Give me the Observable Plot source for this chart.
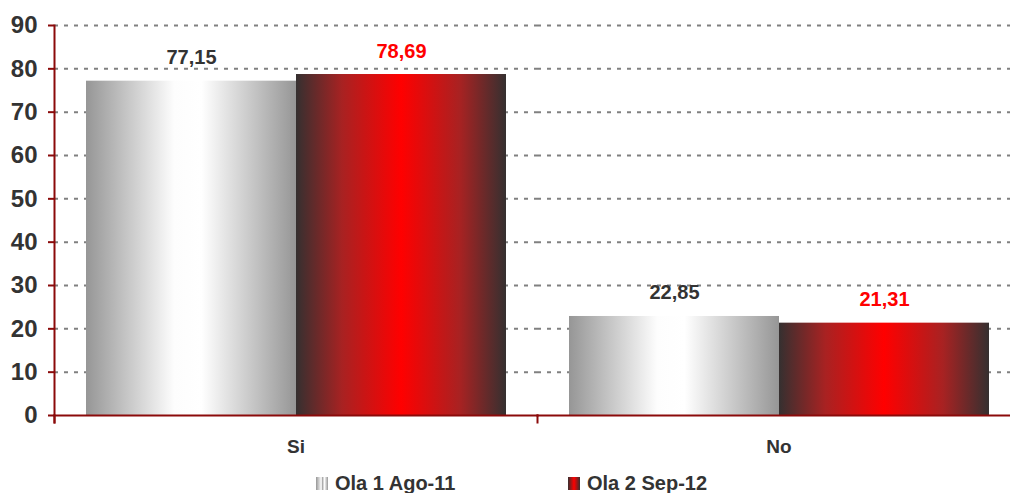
<!DOCTYPE html>
<html>
<head>
<meta charset="utf-8">
<script src="https://cdn.jsdelivr.net/npm/d3@7"></script>
<script src="https://cdn.jsdelivr.net/npm/@observablehq/plot@0.6"></script>
<style>
  html, body { margin: 0; padding: 0; background: #fff; }
  body { width: 1010px; height: 493px; overflow: hidden; position: relative; font-family: "Liberation Sans", Arial, sans-serif; }
  #legend { position: absolute; top: 473px; left: 0; width: 1010px; height: 20px; font-weight: bold; font-size: 20px; color: #333; }
  .item { position: absolute; top: 0; display: flex; align-items: center; gap: 7px; line-height: 20px; }
  .sw { width: 12px; height: 13px; display: inline-block; }
</style>
</head>
<body>
<div id="chart"></div>
<div id="legend"></div>
<script>
const categories = ["Si", "No"];
const series = ["Ola 1 Ago-11", "Ola 2 Sep-12"];
const ola1 = [77.15, 22.85];
const ola2 = [78.69, 21.31];
const yTicks = [0, 10, 20, 30, 40, 50, 60, 70, 80, 90];

const seriesFill = ["url(#gGray)", "url(#gRed)"];
const seriesText = ["#333333", "#ff0000"];
const axisRed = "#8b0a0a";

const data = categories.flatMap((c, i) => [
  {cat: c, serie: series[0], value: ola1[i]},
  {cat: c, serie: series[1], value: ola2[i]}
]);
const fmt = v => v.toFixed(2).replace(".", ",");

const font = "Liberation Sans, Arial, sans-serif";

const plot = Plot.plot({
  width: 1010,
  height: 465,
  marginLeft: 54,
  marginRight: -10,
  marginTop: 25,
  marginBottom: 50,
  style: {fontFamily: font, background: "#fff"},
  fx: {domain: categories, padding: 0, label: null},
  x: {domain: series, paddingInner: 0, paddingOuter: 0.1446, axis: null},
  y: {domain: [0, 90], ticks: yTicks, label: null, axis: null},
  marks: [
    Plot.gridY(yTicks.filter(t => t > 0), {stroke: "#808080", strokeOpacity: 1, strokeWidth: 2, strokeDasharray: "4,6"}),
    Plot.barY(data.filter(d => d.serie === series[0]), {fx: "cat", x: "serie", y: "value", fill: seriesFill[0]}),
    Plot.barY(data.filter(d => d.serie === series[1]), {fx: "cat", x: "serie", y: "value", fill: seriesFill[1]}),
    Plot.text(data, {
      fx: "cat", x: "serie", y: "value", text: d => fmt(d.value),
      fill: d => seriesText[series.indexOf(d.serie)],
      lineAnchor: "bottom", dy: -17, fontSize: 20, fontWeight: "bold"
    }),
    // x axis baseline
    Plot.frame({anchor: "bottom", stroke: axisRed, strokeWidth: 2}),
    // category boundary ticks
    Plot.frame({anchor: "left", stroke: axisRed, strokeWidth: 2, insetTop: 390, insetBottom: -7}),
    // y axis line
    Plot.frame({anchor: "left", stroke: axisRed, strokeWidth: 2, insetBottom: -7, facetAnchor: "left"}),
    Plot.axisY(yTicks, {tickSize: 6, stroke: axisRed, strokeWidth: 2, text: null, facetAnchor: "left"}),
    Plot.axisY(yTicks, {tickSize: 0, tickPadding: 17, fill: "#333", fontSize: 24, fontWeight: "bold", label: null, facetAnchor: "left"}),
    Plot.axisFx({anchor: "bottom", tickSize: 0, tickPadding: 24, fill: "#333", fontSize: 19, fontWeight: "bold", label: null})
  ]
});

// gradient definitions
const svg = d3.select(plot);
const defs = svg.insert("defs", ":first-child");
const gGray = defs.append("linearGradient").attr("id", "gGray").attr("x1", "0").attr("x2", "1").attr("y1", "0").attr("y2", "0");
[[0, "#969696"], [0.42, "#fdfdfd"], [0.55, "#ffffff"], [1, "#969696"]].forEach(([o, c]) =>
  gGray.append("stop").attr("offset", o).attr("stop-color", c));
const gRed = defs.append("linearGradient").attr("id", "gRed").attr("x1", "0").attr("x2", "1").attr("y1", "0").attr("y2", "0");
[[0, "#353030"], [0.22, "#a82222"], [0.5, "#ff0000"], [0.78, "#a82222"], [1, "#353030"]].forEach(([o, c]) =>
  gRed.append("stop").attr("offset", o).attr("stop-color", c));

document.getElementById("chart").appendChild(plot);

// legend
const legend = document.getElementById("legend");
const legendX = [316, 568];
series.forEach((s, i) => {
  const item = document.createElement("div");
  item.className = "item";
  item.style.left = legendX[i] + "px";
  const sw = document.createElement("span");
  sw.className = "sw";
  sw.style.background = i === 0
    ? "linear-gradient(to right, #969696, #fff 45%, #969696 50%, #fff 70%, #969696)"
    : "linear-gradient(to right, #353030, #ff0000 50%, #353030)";
  const t = document.createElement("span");
  t.textContent = s;
  item.appendChild(sw);
  item.appendChild(t);
  legend.appendChild(item);
});
</script>
</body>
</html>
